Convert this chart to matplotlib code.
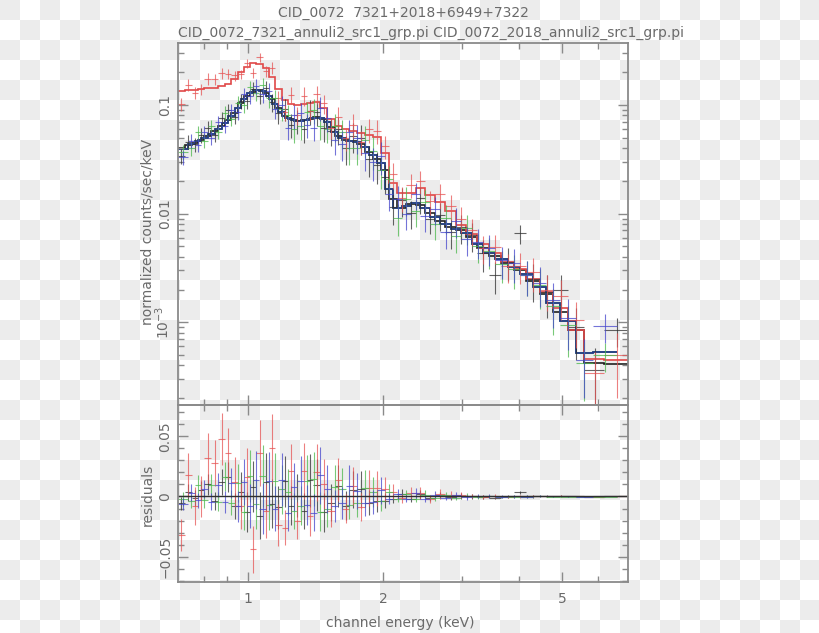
import numpy as np
import matplotlib
matplotlib.use('Agg')
import matplotlib.pyplot as plt
from matplotlib.colors import ListedColormap
from matplotlib.ticker import FixedLocator, FixedFormatter, NullFormatter, LogLocator

# --- data (energies in keV, flux in counts/sec/keV) ---
# bins for groups 1 (black) and 2 (red)
edges_a = [0.70, 0.725, 0.75, 0.775, 0.80, 0.83, 0.86, 0.89, 0.92, 0.95,
           0.98, 1.01, 1.045, 1.08, 1.115, 1.15, 1.19, 1.23, 1.27, 1.31,
           1.355, 1.40, 1.45, 1.50, 1.56, 1.62, 1.68, 1.75, 1.82, 1.90,
           1.98, 2.06, 2.15, 2.25, 2.36, 2.48, 2.61, 2.75, 2.90, 3.06,
           3.24, 3.44, 3.66, 3.90, 4.16, 4.45, 4.78, 5.15, 5.60, 6.20, 7.00]
# bins for groups 3 (green) and 4 (blue)
edges_b = [0.70, 0.737, 0.762, 0.787, 0.815, 0.845, 0.875, 0.905, 0.935, 0.965,
           0.995, 1.027, 1.062, 1.097, 1.132, 1.17, 1.21, 1.25, 1.29, 1.332,
           1.377, 1.425, 1.475, 1.53, 1.59, 1.65, 1.715, 1.785, 1.86, 1.94,
           2.02, 2.105, 2.20, 2.30, 2.42, 2.545, 2.68, 2.825, 2.98, 3.15,
           3.34, 3.55, 3.78, 4.03, 4.30, 4.60, 4.95, 5.35, 5.85, 6.60]

model_red = [0.134, 0.136, 0.138, 0.140, 0.142, 0.144, 0.148, 0.157, 0.175, 0.200,
             0.225, 0.242, 0.240, 0.217, 0.180, 0.140, 0.112, 0.103, 0.100, 0.101,
             0.104, 0.106, 0.094, 0.074, 0.064, 0.060, 0.057, 0.055, 0.053, 0.051,
             0.036, 0.019, 0.0155, 0.0155, 0.0172, 0.0148, 0.0128, 0.0105, 0.0078, 0.0065,
             0.0053, 0.0043, 0.0036, 0.0031, 0.0025, 0.0019, 0.00135, 0.00085, 0.00046, 0.00045]
data_red = [0.102, 0.154, 0.130, 0.140, 0.174, 0.172, 0.196, 0.193, 0.187, 0.192,
            0.241, 0.198, 0.276, 0.205, 0.220, 0.116, 0.086, 0.124, 0.080, 0.122,
            0.088, 0.126, 0.104, 0.062, 0.078, 0.050, 0.066, 0.046, 0.060, 0.058,
            0.042, 0.023, 0.0140, 0.0185, 0.0200, 0.0130, 0.0150, 0.0118, 0.0090, 0.0070,
            0.0048, 0.0049, 0.0033, 0.0033, 0.0029, 0.0020, 0.00175, 0.00105, 0.00034, 0.00050]
frac_red = [0.13, 0.12, 0.12, 0.12, 0.12, 0.11, 0.11, 0.11, 0.11, 0.10,
            0.10, 0.10, 0.10, 0.11, 0.13, 0.15, 0.17, 0.18, 0.19, 0.19,
            0.19, 0.19, 0.20, 0.22, 0.23, 0.24, 0.24, 0.25, 0.25, 0.25,
            0.24, 0.26, 0.26, 0.25, 0.24, 0.25, 0.26, 0.26, 0.27, 0.28,
            0.29, 0.30, 0.30, 0.32, 0.34, 0.36, 0.40, 0.45, 0.55, 0.60]

model_blk = [0.0398, 0.0425, 0.0450, 0.0480, 0.0520, 0.0570, 0.0640, 0.0730, 0.0850, 0.1050,
             0.1220, 0.1330, 0.1370, 0.1300, 0.1130, 0.0930, 0.0795, 0.0735, 0.0712, 0.0722,
             0.0745, 0.0767, 0.0750, 0.0630, 0.0515, 0.0478, 0.0462, 0.0440, 0.0372, 0.0315,
             0.0250, 0.0135, 0.0113, 0.0122, 0.0119, 0.0102, 0.0086, 0.0075, 0.0070, 0.0061,
             0.0048, 0.0041, 0.0035, 0.0030, 0.0024, 0.0018, 0.00125, 0.00085, 0.00042, 0.00041]
data_blk = [0.0340, 0.0460, 0.0435, 0.0530, 0.0620, 0.0530, 0.0760, 0.0890, 0.0770, 0.1090,
            0.1090, 0.1410, 0.1210, 0.1420, 0.1070, 0.0840, 0.0920, 0.0660, 0.0720, 0.0600,
            0.0880, 0.0860, 0.0620, 0.0580, 0.0600, 0.0400, 0.0520, 0.0500, 0.0320, 0.0280,
            0.0215, 0.0115, 0.0132, 0.0102, 0.0138, 0.0090, 0.0098, 0.0068, 0.0075, 0.0063,
            0.0043, 0.0027, 0.0036, 0.0066, 0.0025, 0.0019, 0.0020, 0.0009, 0.00036, 0.00085]
frac_blk = [0.16, 0.15, 0.15, 0.15, 0.14, 0.14, 0.14, 0.14, 0.14, 0.15,
            0.15, 0.15, 0.16, 0.17, 0.19, 0.21, 0.23, 0.25, 0.25, 0.25,
            0.25, 0.25, 0.26, 0.27, 0.29, 0.30, 0.30, 0.31, 0.32, 0.33,
            0.30, 0.32, 0.30, 0.29, 0.28, 0.28, 0.29, 0.30, 0.30, 0.30,
            0.32, 0.33, 0.34, 0.20, 0.38, 0.42, 0.35, 0.50, 0.60, 0.30]

model_blu = [0.0392, 0.0438, 0.0462, 0.0498, 0.0545, 0.0605, 0.0685, 0.0790, 0.0940, 0.1130,
             0.1280, 0.1360, 0.1350, 0.1220, 0.1020, 0.0860, 0.0760, 0.0720, 0.0715, 0.0730,
             0.0755, 0.0765, 0.0700, 0.0560, 0.0495, 0.0470, 0.0452, 0.0410, 0.0345, 0.0290,
             0.0170, 0.0112, 0.0118, 0.0124, 0.0112, 0.0094, 0.0080, 0.0072, 0.0066, 0.0053,
             0.0043, 0.0038, 0.0032, 0.0028, 0.0021, 0.0015, 0.00102, 0.00052, 0.00053]
data_grn = [0.0370, 0.0400, 0.0560, 0.0470, 0.0640, 0.0560, 0.0850, 0.0740, 0.1050, 0.1000,
            0.1450, 0.1300, 0.1520, 0.1150, 0.1150, 0.0920, 0.0800, 0.0600, 0.0640, 0.0860,
            0.0900, 0.0640, 0.0600, 0.0640, 0.0560, 0.0400, 0.0400, 0.0480, 0.0380, 0.0250,
            0.0210, 0.0092, 0.0135, 0.0105, 0.0128, 0.0080, 0.0092, 0.0062, 0.0074, 0.0050,
            0.0045, 0.0034, 0.0031, 0.0027, 0.0022, 0.0014, 0.00095, 0.00042, 0.00050]
data_blu = [0.0330, 0.0470, 0.0430, 0.0560, 0.0500, 0.0700, 0.0640, 0.0900, 0.0860, 0.1250,
            0.1200, 0.1500, 0.1250, 0.1350, 0.0920, 0.1000, 0.0620, 0.0800, 0.0840, 0.0660,
            0.0620, 0.0940, 0.0760, 0.0480, 0.0440, 0.0560, 0.0500, 0.0360, 0.0300, 0.0340,
            0.0150, 0.0135, 0.0100, 0.0150, 0.0095, 0.0110, 0.0068, 0.0086, 0.0058, 0.0055,
            0.0048, 0.0037, 0.0035, 0.0027, 0.0023, 0.0016, 0.0011, 0.00045, 0.00092]
frac_b = [0.15, 0.15, 0.15, 0.14, 0.14, 0.14, 0.14, 0.14, 0.15, 0.15,
          0.15, 0.16, 0.17, 0.18, 0.20, 0.22, 0.24, 0.25, 0.25, 0.25,
          0.25, 0.25, 0.26, 0.28, 0.30, 0.30, 0.30, 0.32, 0.33, 0.33,
          0.30, 0.32, 0.30, 0.28, 0.28, 0.28, 0.30, 0.30, 0.30, 0.30,
          0.32, 0.33, 0.35, 0.36, 0.40, 0.45, 0.50, 0.55, 0.30]

title = 'CID_0072  7321+2018+6949+7322'
subtitle = 'CID_0072_7321_annuli2_src1_grp.pi CID_0072_2018_annuli2_src1_grp.pi'

# --- style ---
TXT = '#6a6a6a'
AX = '#8a8a8a'
groups = [
    # edges, data, frac err, model, colour
    (edges_a, data_blk, frac_blk, model_blk, '#303030'),
    (edges_a, data_red, frac_red, model_red, '#e65555'),
    (edges_b, data_grn, frac_b, model_blu, '#4cb84c'),
    (edges_b, data_blu, frac_b, model_blu, '#4646cc'),
]
model_colors = ['#202020', '#e04848', '#3aa83a', '#25338f']


def bin_centres(edges):
    e = np.asarray(edges)
    return 0.5 * (e[:-1] + e[1:]), 0.5 * (e[1:] - e[:-1])


fig = plt.figure(figsize=(8.2, 6.33), dpi=100)

# transparent-background checkerboard
bg = fig.add_axes([0, 0, 1, 1], zorder=-10)
board = np.add.outer(np.arange(32), np.arange(41)) % 2
bg.imshow(board, cmap=ListedColormap(['#ececec', '#ffffff']),
          extent=(0, 820, 640, 0), interpolation='nearest', aspect='auto')
bg.set_xlim(0, 820)
bg.set_ylim(633, 0)
bg.axis('off')

ax1 = fig.add_axes([0.2171, 0.3602, 0.5488, 0.5719])
ax2 = fig.add_axes([0.2171, 0.0806, 0.5488, 0.2796], sharex=ax1)
for ax in (ax1, ax2):
    ax.set_facecolor('none')
    for s in ax.spines.values():
        s.set_color(AX)
        s.set_linewidth(1.3)

# data with error bars
for edges, data, frac, model, col in groups:
    x, xhw = bin_centres(edges)
    d = np.asarray(data)
    err = np.asarray(frac) * d
    ax1.errorbar(x, d, xerr=xhw, yerr=err, fmt='none', ecolor=col,
                 elinewidth=0.8, alpha=0.75)
    ax2.errorbar(x, d - np.asarray(model), xerr=xhw, yerr=err, fmt='none',
                 ecolor=col, elinewidth=0.8, alpha=0.75)

# folded models
for (edges, data, frac, model, col), mc in zip(groups, model_colors):
    ax1.stairs(model, edges, baseline=None, color=mc, lw=1.2)
ax2.axhline(0, color='#303030', lw=1.0)

ax1.set_xscale('log')
ax1.set_yscale('log')
ax1.set_xlim(0.7, 7.0)
ax1.set_ylim(1.73e-4, 0.372)
ax2.set_ylim(-0.071, 0.076)

ax2.xaxis.set_major_locator(FixedLocator([1, 2, 5]))
ax2.xaxis.set_major_formatter(FixedFormatter(['1', '2', '5']))
ax2.xaxis.set_minor_locator(FixedLocator([0.8, 0.9, 3, 4, 6]))
ax2.xaxis.set_minor_formatter(NullFormatter())

ax1.yaxis.set_major_locator(FixedLocator([1e-3, 1e-2, 1e-1]))
ax1.yaxis.set_major_formatter(FixedFormatter(['$10^{-3}$', '0.01', '0.1']))
ax1.yaxis.set_minor_locator(LogLocator(base=10, subs=np.arange(2, 10)))
ax1.yaxis.set_minor_formatter(NullFormatter())

ax2.yaxis.set_major_locator(FixedLocator([-0.05, 0, 0.05]))
ax2.yaxis.set_major_formatter(FixedFormatter(['\u22120.05', '0', '0.05']))
ax2.yaxis.set_minor_locator(FixedLocator(np.arange(-0.07, 0.08, 0.01)))

for ax in (ax1, ax2):
    ax.tick_params(which='both', direction='in', top=True, right=True,
                   color=AX, labelcolor=TXT, labelsize=10)
    ax.tick_params(which='major', length=7, width=1)
    ax.tick_params(which='minor', length=4, width=1)
    ax.tick_params(axis='y', labelrotation=90, pad=4)
    ax.tick_params(axis='x', pad=7)
    for lab in ax.get_yticklabels():
        lab.set_va('center')
ax1.tick_params(labelbottom=False)

fig.text(403 / 820, 1 - 13 / 633, title, ha='center', va='center',
         color=TXT, fontsize=10)
fig.text(178 / 820, 1 - 33 / 633, subtitle, ha='left', va='center',
         color=TXT, fontsize=10)
fig.text(148 / 820, 1 - 232 / 633, 'normalized counts/sec/keV', rotation=90,
         ha='center', va='center', color=TXT, fontsize=10)
fig.text(148 / 820, 1 - 495 / 633, 'residuals', rotation=90,
         ha='center', va='center', color=TXT, fontsize=10)
fig.text(400 / 820, 1 - 623 / 633, 'channel energy (keV)', ha='center',
         va='center', color=TXT, fontsize=10)

plt.savefig('out.png', dpi=100)
